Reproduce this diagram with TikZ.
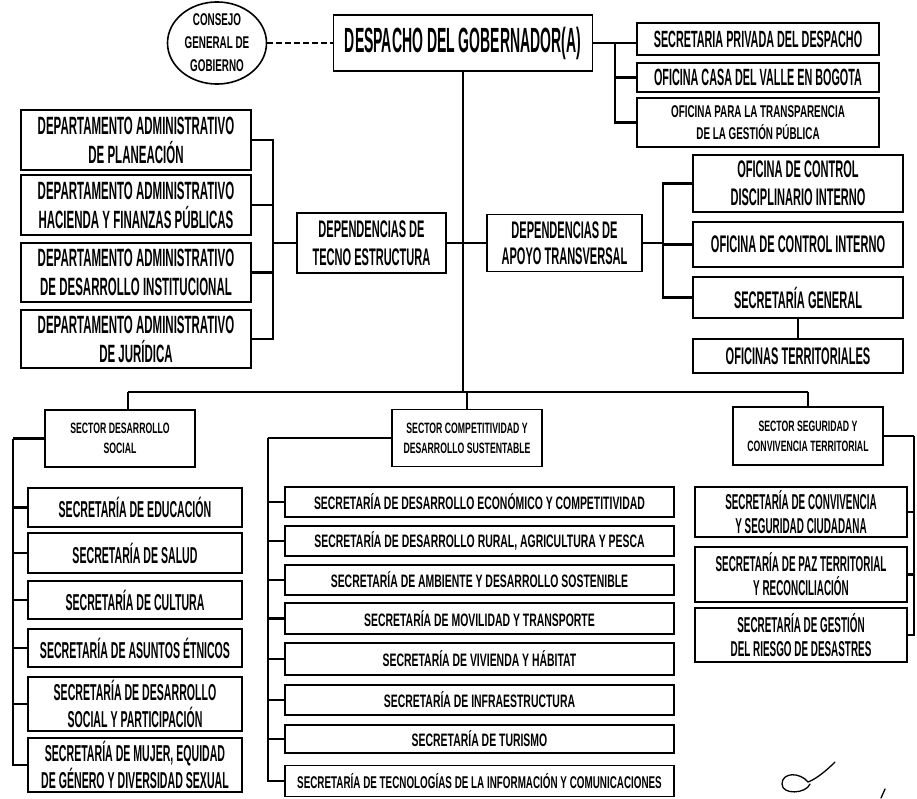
\documentclass[tikz,border=0pt]{standalone}
\usepackage{fontspec}
\newfontfamily\narrowfont{Liberation Sans Bold}[FakeStretch=0.46]
\newfontfamily\widefont{Liberation Sans Bold}[FakeStretch=0.58]
\newfontfamily\titlefont{Liberation Sans Bold}[FakeStretch=0.40]
\usetikzlibrary{shapes.geometric}

\begin{document}
\begin{tikzpicture}[
    x=1pt, y=-1pt,
    box/.style={draw, line width=1.6pt, inner sep=0pt, align=center,
        font=\narrowfont\fontsize{24}{28}\selectfont},
    sector/.style={box, minimum width=150, minimum height=57,
        font=\widefont\fontsize{15}{20}\selectfont},
    office/.style={box, minimum width=242, font=\narrowfont\fontsize{23.5}{27}\selectfont},
    support/.style={box, minimum width=210},
    dept/.style={box, minimum width=230, font=\narrowfont\fontsize{25}{29}\selectfont},
    social/.style={box, minimum width=214, font=\narrowfont\fontsize{23}{27}\selectfont},
    compet/.style={box, minimum width=389, font=\widefont\fontsize{18}{22}\selectfont},
    secur/.style={box, minimum width=212, font=\narrowfont\fontsize{21.5}{24}\selectfont},
    link/.style={line width=2.6pt},
    sig/.style={line width=1.3pt, line cap=round}
]
\useasboundingbox (0,0) rectangle (917,798);

% Despacho
\node[draw, ellipse, line width=1.6pt, minimum width=99, minimum height=75, inner sep=0pt,
    align=center, font=\widefont\fontsize{17}{23}\selectfont]
    (consejo) at (217,43) {CONSEJO\\GENERAL DE\\GOBIERNO};
\node[box, minimum width=259, minimum height=56, font=\titlefont\fontsize{35}{40}\selectfont]
    (despacho) at (463,43) {DESPACHO DEL GOBERNADOR(A)};
\draw[link, dash pattern=on 6pt off 3pt] (consejo.east) -- (despacho.west);

% Oficinas del despacho
\node[office, minimum height=32] (privada) at (758,39) {SECRETARIA PRIVADA DEL DESPACHO};
\node[office, minimum height=29] (casa) at (758,77.5) {OFICINA CASA DEL VALLE EN BOGOTA};
\node[office, minimum height=49, font=\widefont\fontsize{17}{21.5}\selectfont]
    (transp) at (758,122.5) {OFICINA PARA LA TRANSPARENCIA\\DE LA GESTIÓN PÚBLICA};

\coordinate (tr) at (615,43);
\draw[link] (despacho.east) -- (despacho.east -| privada.west);
\draw[link] (tr) |- (casa.west);
\draw[link] (tr) |- (transp.west);

% Dependencias
\node[box, minimum width=149, minimum height=60] (tecno) at (371.5,243) {DEPENDENCIAS DE\\TECNO ESTRUCTURA};
\node[box, minimum width=155, minimum height=57, font=\narrowfont\fontsize{24}{26}\selectfont]
    (apoyo) at (564.5,243) {DEPENDENCIAS DE\\APOYO TRANSVERSAL};

\node[dept, minimum height=60] (dep1) at (136,140) {DEPARTAMENTO ADMINISTRATIVO\\DE PLANEACIÓN};
\node[dept, minimum height=60] (dep2) at (136,205) {DEPARTAMENTO ADMINISTRATIVO\\HACIENDA Y FINANZAS PÚBLICAS};
\node[dept, minimum height=59] (dep3) at (136,272.5) {DEPARTAMENTO ADMINISTRATIVO\\DE DESARROLLO INSTITUCIONAL};
\node[dept, minimum height=58] (dep4) at (136,339) {DEPARTAMENTO ADMINISTRATIVO\\DE JURÍDICA};

\node[support, minimum height=57] (disc) at (798,183.5) {OFICINA DE CONTROL\\DISCIPLINARIO INTERNO};
\node[support, minimum height=45] (cinterno) at (798,244.5) {OFICINA DE CONTROL INTERNO};
\node[support, minimum height=41] (secgen) at (798,297.5) {SECRETARÍA GENERAL};
\node[support, minimum height=34] (territ) at (798,356) {OFICINAS TERRITORIALES};

\coordinate (busL) at (128,392);
\coordinate (busR) at (808,392);
\draw[link] (despacho.south) -- (despacho.south |- busL);
\draw[link] (tecno.east) -- (tecno.east -| despacho.south);
\draw[link] (apoyo.west) -- (apoyo.west -| despacho.south);

\coordinate (lb) at (273,243);
\draw[link] (tecno.west) -- (lb);
\draw[link] (dep1.east) -| (lb) |- (dep4.east);
\draw[link] (lb) |- (dep2.east);
\draw[link] (lb) |- (dep3.east);

\coordinate (rb) at (663,243);
\draw[link] (apoyo.east) -- (rb);
\draw[link] (disc.west) -| (rb) |- (secgen.west);
\draw[link] (rb) |- (cinterno.west);
\draw[link] (secgen.south) -- (territ.north);

% Sectores
\draw[link] (busL) -- (busR);
\node[sector] (sdesarrollo) at (120,438.5) {SECTOR DESARROLLO\\SOCIAL};
\node[sector] (scompet) at (467,438) {SECTOR COMPETITIVIDAD Y\\DESARROLLO SUSTENTABLE};
\node[sector, minimum height=58] (sseguridad) at (808,436) {SECTOR SEGURIDAD Y\\CONVIVENCIA TERRITORIAL};
\draw[link] (busL) -- (busL |- sdesarrollo.north);
\draw[link] (scompet.north) -- (scompet.north |- busL);
\draw[link] (busR) -- (busR |- sseguridad.north);

% Sector desarrollo social
\node[social, minimum height=39] (educ) at (135,507.5) {SECRETARÍA DE EDUCACIÓN};
\node[social, minimum height=40] (salud) at (135,553) {SECRETARÍA DE SALUD};
\node[social, minimum height=38] (cultura) at (135,600) {SECRETARÍA DE CULTURA};
\node[social, minimum height=38] (etnicos) at (135,648) {SECRETARÍA DE ASUNTOS ÉTNICOS};
\node[social, minimum height=54] (particip) at (135,704) {SECRETARÍA DE DESARROLLO\\SOCIAL Y PARTICIPACIÓN};
\node[social, minimum height=54] (mujer) at (135,765) {SECRETARÍA DE MUJER, EQUIDAD\\DE GÉNERO Y DIVERSIDAD SEXUAL};

\coordinate (sb) at (13,438.5);
\draw[link] (sdesarrollo.west) -- (sb);
\foreach \n in {educ,salud,cultura,etnicos,particip,mujer}
    \draw[link] (sb) |- (\n.west);

% Sector competitividad
\node[compet, minimum height=30] (econ) at (479.5,502) {SECRETARÍA DE DESARROLLO ECONÓMICO Y COMPETITIVIDAD};
\node[compet, minimum height=30] (rural) at (479.5,541) {SECRETARÍA DE DESARROLLO RURAL, AGRICULTURA Y PESCA};
\node[compet, minimum height=30] (ambiente) at (479.5,580) {SECRETARÍA DE AMBIENTE Y DESARROLLO SOSTENIBLE};
\node[compet, minimum height=31] (movil) at (479.5,618.5) {SECRETARÍA DE MOVILIDAD Y TRANSPORTE};
\node[compet, minimum height=32] (vivienda) at (479.5,659) {SECRETARÍA DE VIVIENDA Y HÁBITAT};
\node[compet, minimum height=30] (infra) at (479.5,700) {SECRETARÍA DE INFRAESTRUCTURA};
\node[compet, minimum height=28] (turismo) at (479.5,739) {SECRETARÍA DE TURISMO};
\node[compet, minimum height=31, font=\widefont\fontsize{17}{21}\selectfont]
    (tic) at (479.5,781) {SECRETARÍA DE TECNOLOGÍAS DE LA INFORMACIÓN Y COMUNICACIONES};

\coordinate (cb) at (268,438);
\draw[link] (scompet.west) -- (cb);
\foreach \n in {econ,rural,ambiente,movil,vivienda,infra,turismo,tic}
    \draw[link] (cb) |- (\n.west);

% Sector seguridad
\node[secur, minimum height=50] (conviv) at (801,512) {SECRETARÍA DE CONVIVENCIA\\Y SEGURIDAD CIUDADANA};
\node[secur, minimum height=55] (paz) at (801,574.5) {SECRETARÍA DE PAZ TERRITORIAL\\Y RECONCILIACIÓN};
\node[secur, minimum height=54] (gestion) at (801,635) {SECRETARÍA DE GESTIÓN\\DEL RIESGO DE DESASTRES};

\coordinate (gb) at (914,436);
\draw[link] (sseguridad.east) -- (gb);
\foreach \n in {conviv,paz,gestion}
    \draw[link] (gb) |- (\n.east);

% Firma
\draw[sig] (835,762) .. controls (826,771) and (816,779) .. (808,782)
    .. controls (800,772) and (782,772) .. (782,784)
    .. controls (782,795) and (806,794) .. (810,784);
\draw[sig] (885,789) -- (881,798);

\end{tikzpicture}
\end{document}
